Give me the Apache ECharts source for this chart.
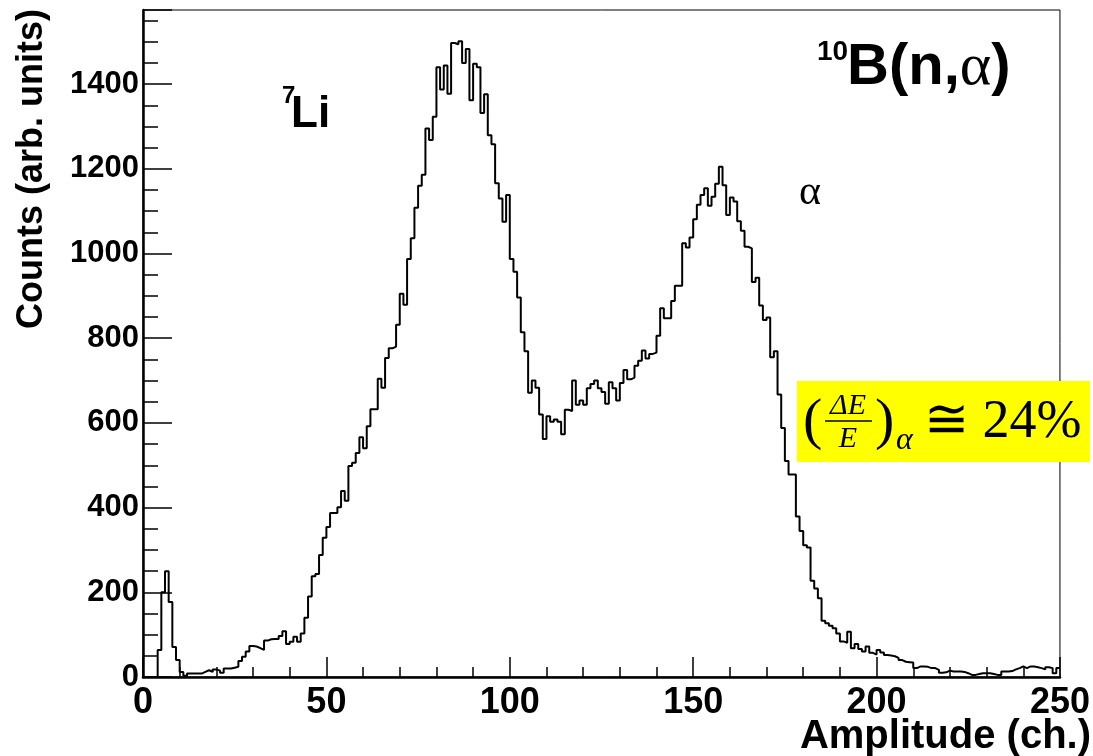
<!DOCTYPE html>
<html>
<head>
<meta charset="utf-8">
<script src="https://cdn.jsdelivr.net/npm/echarts@6/dist/echarts.min.js"></script>
<style>html,body{margin:0;padding:0;background:#fff;}#c{width:1093px;height:756px;}</style>
</head>
<body>
<div id="c"></div>
<script>
// Histogram: 250 bins of width 1 channel, bin i covers [i, i+1)
const counts = [
  0, 0, 0, 0, 64, 200, 250, 177, 71, 40,
  12, 3, 8, 8, 8, 8, 12, 16, 12, 18,
  15, 10, 20, 20, 22, 24, 38, 48, 60, 73,
  72, 68, 64, 86, 89, 90, 90, 97, 108, 78,
  83, 95, 83, 103, 140, 190, 238, 243, 288, 329,
  354, 387, 387, 401, 439, 416, 498, 506, 529, 566,
  540, 592, 632, 632, 704, 683, 753, 776, 780, 832,
  905, 879, 987, 1036, 1108, 1160, 1186, 1295, 1268, 1323,
  1440, 1387, 1444, 1377, 1497, 1494, 1501, 1450, 1483, 1362,
  1448, 1440, 1332, 1376, 1279, 1258, 1166, 1130, 1075, 1138,
  987, 957, 896, 814, 769, 671, 700, 683, 620, 562,
  616, 603, 608, 603, 573, 631, 628, 700, 643, 653,
  643, 682, 692, 700, 682, 673, 645, 696, 682, 653,
  694, 725, 703, 707, 735, 747, 771, 752, 763, 766,
  806, 871, 847, 847, 888, 924, 924, 1024, 1014, 1038,
  1081, 1115, 1138, 1154, 1113, 1134, 1165, 1205, 1161, 1091,
  1132, 1123, 1076, 1054, 1016, 1012, 933, 943, 877, 843,
  849, 755, 769, 667, 588, 510, 478, 478, 379, 345,
  311, 306, 227, 209, 186, 133, 127, 121, 115, 103,
  84, 81, 107, 68, 78, 66, 60, 72, 57, 53,
  64, 58, 52, 51, 49, 45, 40, 36, 35, 34,
  21, 25, 25, 24, 21, 21, 17, 10, 11, 15,
  13, 13, 13, 12, 9, 5, 5, 7, 9, 9,
  9, 7, 5, 5, 13, 13, 14, 18, 21, 25,
  21, 25, 25, 23, 21, 18, 23, 21, 9, 21
];
const binStart = 0;
const binWidth = 1;
const xMin = 0, xMax = 250, xStep = 50;
const yMin = 0, yMax = 1575, yStep = 200;

const xTitle = 'Amplitude (ch.)';
const yTitle = 'Counts (arb. units)';

const pts = counts.map((v, i) => [binStart + i * binWidth, v]);
pts.push([binStart + counts.length * binWidth, counts[counts.length - 1]]);

const chart = echarts.init(document.getElementById('c'), null, {renderer: 'canvas'});
const sans = '"Liberation Sans", Arial, Helvetica, sans-serif';
const serif = '"Liberation Serif", "Times New Roman", serif';

chart.setOption({
  animation: false,
  backgroundColor: '#fff',
  grid: {left: 143, right: 31, top: 10, bottom: 79, show: true, borderColor: '#000', borderWidth: 1, containLabel: false},
  xAxis: {
    type: 'value', min: xMin, max: xMax, interval: xStep,
    axisLine: {show: true, onZero: false, lineStyle: {color: '#000', width: 2.5}},
    axisTick: {show: true, inside: true, length: 20, lineStyle: {color: '#000', width: 1.5}},
    minorTick: {show: true, splitNumber: 5, length: 10, lineStyle: {color: '#000', width: 1.5}},
    splitLine: {show: false},
    axisLabel: {color: '#000', fontFamily: sans, fontWeight: 'bold', fontSize: 36, margin: 8, formatter: v => String(v)}
  },
  yAxis: {
    type: 'value', min: yMin, max: yMax, interval: yStep,
    axisLine: {show: true, onZero: false, lineStyle: {color: '#000', width: 2.5}},
    axisTick: {show: true, inside: true, length: 29, lineStyle: {color: '#000', width: 1.5}},
    minorTick: {show: true, splitNumber: 4, length: 15, lineStyle: {color: '#000', width: 1.5}},
    splitLine: {show: false},
    axisLabel: {color: '#000', fontFamily: sans, fontWeight: 'bold', fontSize: 31, margin: 4, showMaxLabel: false, formatter: v => String(v)}
  },
  series: [{
    type: 'line', step: 'end', data: pts, symbol: 'none',
    lineStyle: {color: '#000', width: 2}, clip: true
  }],
  graphic: [
    {type: 'text', x: 1091, y: 737, style: {text: xTitle, fill: '#000', font: 'bold 40px ' + sans, align: 'right', verticalAlign: 'middle'}},
    {type: 'text', x: 32, y: 9, rotation: Math.PI / 2, style: {text: yTitle, fill: '#000', font: 'bold 36px ' + sans, align: 'right', verticalAlign: 'middle'}},
    {type: 'text', x: 282, y: 96, style: {text: '7', fill: '#000', font: 'bold 24px ' + sans, align: 'left', verticalAlign: 'middle'}},
    {type: 'text', x: 291, y: 115, style: {text: 'Li', fill: '#000', font: 'bold 44px ' + sans, align: 'left', verticalAlign: 'middle'}},
    {type: 'text', x: 817, y: 52, style: {text: '10', fill: '#000', font: 'bold 28px ' + sans, align: 'left', verticalAlign: 'middle'}},
    {type: 'text', x: 847, y: 68, style: {
      text: '{b|B(n,}{a|α}{b|)}', align: 'left', verticalAlign: 'middle',
      rich: {b: {fontFamily: sans, fontWeight: 'bold', fontSize: 58, fill: '#000'}, a: {fontFamily: serif, fontSize: 60, fill: '#000'}}
    }},
    {type: 'text', x: 810, y: 193, style: {text: 'α', fill: '#000', font: '42px ' + serif, align: 'center', verticalAlign: 'middle'}},
    {type: 'rect', shape: {x: 797, y: 381, width: 293, height: 81}, style: {fill: '#ffff00'}},
    {type: 'text', x: 803, y: 423, style: {text: '(', fill: '#000', font: '58px ' + serif, align: 'left', verticalAlign: 'middle'}},
    {type: 'text', x: 848, y: 406, style: {text: 'ΔE', fill: '#000', font: 'italic 30px ' + serif, align: 'center', verticalAlign: 'middle'}},
    {type: 'line', shape: {x1: 825, y1: 421, x2: 872, y2: 421}, style: {stroke: '#000', lineWidth: 1.5}},
    {type: 'text', x: 848, y: 439, style: {text: 'E', fill: '#000', font: 'italic 30px ' + serif, align: 'center', verticalAlign: 'middle'}},
    {type: 'text', x: 875, y: 423, style: {text: ')', fill: '#000', font: '58px ' + serif, align: 'left', verticalAlign: 'middle'}},
    {type: 'text', x: 896, y: 441, style: {text: 'α', fill: '#000', font: 'italic 32px ' + serif, align: 'left', verticalAlign: 'middle'}},
    {type: 'text', x: 924, y: 423, style: {text: '≅ 24%', fill: '#000', font: '54px ' + serif, align: 'left', verticalAlign: 'middle'}}
  ]
});
</script>
</body>
</html>
